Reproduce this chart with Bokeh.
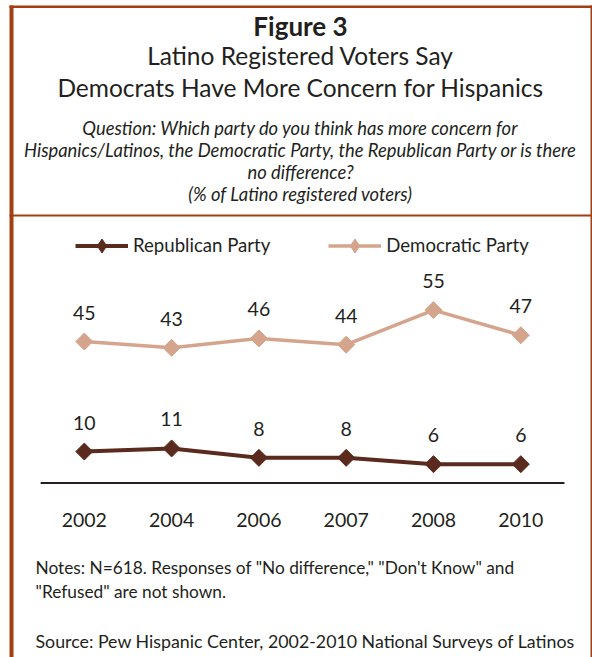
import math
from bokeh.plotting import figure
from bokeh.models import Range1d, Label, BoxAnnotation, Legend, LegendItem, ColumnDataSource
from bokeh.core.properties import value
from bokeh.embed import file_html
from bokeh.resources import INLINE

# ---- data ----
years = ["2002", "2004", "2006", "2007", "2008", "2010"]
republican = [10, 11, 8, 8, 6, 6]
democratic = [45, 43, 46, 44, 55, 47]

title_top = "Figure 3"
title_lines = ["Latino Registered Voters Say", "Democrats Have More Concern for Hispanics"]
question_lines = [
    "Question: Which party do you think has more concern for",
    "Hispanics/Latinos, the Democratic Party, the Republican Party or is there",
    "no difference?",
    "(% of Latino registered voters)",
]
notes_lines = [
    "Notes: N=618. Responses of \"No difference,\" \"Don't Know\" and",
    "\"Refused\" are not shown.",
]
source_line = "Source:  Pew Hispanic Center, 2002-2010 National Surveys of Latinos"

# ---- layout (pixels) ----
W, H = 592, 657
FONT = "Lato"
TXT = "#231F20"
REP_C = "#5B2A1E"
DEM_C = "#D4A48C"
BORDER_C = "#A33F12"

x0_px = 83.8      # canvas x of first category
dx_px = 87.3      # px per category
zero_px = 482.5   # canvas y (from top) of value 0
py_px = 3.143     # px per percentage point

xs = list(range(len(years)))
x_start = -x0_px / dx_px
x_end = x_start + W / dx_px
y_start = -(H - zero_px) / py_px
y_end = y_start + H / py_px

p = figure(width=W, height=H, output_backend="svg", toolbar_location=None,
           x_range=Range1d(x_start, x_end), y_range=Range1d(y_start, y_end),
           min_border=0, x_axis_location=None, y_axis_location=None)
p.grid.visible = False
p.outline_line_color = None
p.background_fill_color = "white"
p.border_fill_color = "white"

def top(y):
    return H - y

# frame borders
for kw in [dict(left=9, right=13, bottom=0, top=top(5)),
           dict(left=9, right=592, bottom=top(7.5), top=top(5)),
           dict(left=590, right=592, bottom=0, top=top(5)),
           dict(left=9, right=592, bottom=top(216), top=top(214))]:
    p.add_layout(BoxAnnotation(left_units="screen", right_units="screen",
                               top_units="screen", bottom_units="screen",
                               fill_color=BORDER_C, fill_alpha=1.0, line_color=None,
                               level="overlay", **kw))

cx = 300

def add_label(text, x, y, size, style="normal", align="center", color=TXT):
    p.add_layout(Label(x=x, y=top(y), x_units="screen", y_units="screen", text=text,
                       text_font=FONT, text_font_size=f"{size}px",
                       text_font_style=style, text_align=align,
                       text_baseline="middle", text_color=color))

add_label(title_top, cx, 25, 26, "bold")
add_label(title_lines[0], cx, 55, 24.5)
add_label(title_lines[1], cx, 87, 24.5)
for i, ln in enumerate(question_lines):
    add_label(ln, cx, 127 + i * 22.3, 18.4, "italic")

add_label(notes_lines[0], 35, 567, 17.3, align="left")
add_label(notes_lines[1], 35, 591, 17.3, align="left")
add_label(source_line, 35, 640, 17.8, align="left")

# axis line
p.line([xs[0] - 0.5, xs[-1] + 0.5], [0, 0], line_color=TXT, line_width=2)

# year tick labels
p.text(x=xs, y=[0] * len(xs), text=years, y_offset=36.5, text_align="center",
       text_baseline="middle", text_font=value(FONT), text_font_size="19.5px",
       text_color=TXT)

src = ColumnDataSource(dict(x=xs, rep=republican, dem=democratic,
                            rep_t=[str(v) for v in republican],
                            dem_t=[str(v) for v in democratic]))

rl = p.line("x", "rep", source=src, line_color=REP_C, line_width=4)
dl = p.line("x", "dem", source=src, line_color=DEM_C, line_width=3.5)
# diamond glyphs (used for the legend; covered by the rotated squares on the chart)
rs_leg = p.scatter("x", "rep", source=src, marker="diamond", size=15,
                   fill_color=REP_C, line_color=REP_C)
ds_leg = p.scatter("x", "dem", source=src, marker="diamond", size=15,
                   fill_color=DEM_C, line_color=DEM_C)
rs = p.scatter("x", "rep", source=src, marker="square", size=12, angle=math.pi / 4,
               fill_color=REP_C, line_color=REP_C)
ds = p.scatter("x", "dem", source=src, marker="square", size=12, angle=math.pi / 4,
               fill_color=DEM_C, line_color=DEM_C)

for col, tcol in (("rep", "rep_t"), ("dem", "dem_t")):
    p.text("x", col, text=tcol, source=src, y_offset=-29, text_align="center",
           text_baseline="middle", text_font=value(FONT), text_font_size="19.5px",
           text_color=TXT)

legend = Legend(items=[LegendItem(label="Republican Party", renderers=[rl, rs_leg]),
                       LegendItem(label="Democratic Party", renderers=[dl, ds_leg])],
                orientation="horizontal", location=(75, top(262.5)),
                glyph_width=53, glyph_height=35, label_standoff=5, spacing=58,
                padding=0, margin=0, border_line_color=None,
                background_fill_alpha=0, label_text_font=FONT,
                label_text_font_size="18.6px", label_text_color=TXT)
p.add_layout(legend)

open("out.html", "w").write(file_html(p, INLINE))
